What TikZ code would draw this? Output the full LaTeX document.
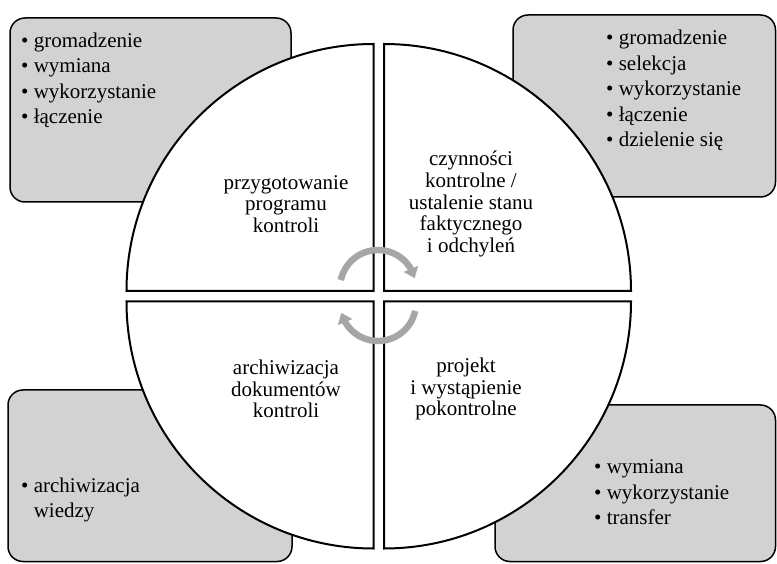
\documentclass[tikz,border=0pt]{standalone}
\usepackage{fontspec}
\setmainfont{Liberation Serif}
\usetikzlibrary{arrows.meta, bending}

\definecolor{boxgray}{RGB}{210,210,210}
\definecolor{arrowgray}{RGB}{166,166,166}
\newcommand{\itemfont}{\fontsize{21}{25.5}\selectfont}
\newcommand{\phasefont}{\fontsize{21}{21.7}\selectfont}

\begin{document}
\begin{tikzpicture}[
    x=1pt, y=1pt,
    infobox/.style={draw, line width=1.5pt, rounded corners=15pt, fill=boxgray},
    quarter/.style={draw, line width=2pt, fill=white},
    items/.style={font=\itemfont, align=left, anchor=west, inner sep=0pt},
    phase/.style={font=\phasefont, align=center, inner sep=0pt},
    cyclearrow/.style={draw=arrowgray, line width=6.5pt, -{Triangle[width=15pt, length=10pt]}}
]
\useasboundingbox (0,0) rectangle (777,563);

% Boxes
\draw[infobox] (10,361) rectangle (291,545);
\draw[infobox] (513,366) rectangle (775.5,548);
\draw[infobox] (8,1.5) rectangle (292,173);
\draw[infobox] (495,1.5) rectangle (775.5,158);

% Circle quarters
\draw[quarter] (373.5,272) -- ++(0,247) arc[start angle=90, end angle=180, radius=247] -- cycle;
\draw[quarter] (384,272) -- ++(247,0) arc[start angle=0, end angle=90, radius=247] -- cycle;
\draw[quarter] (373.5,261.5) -- ++(-247,0) arc[start angle=180, end angle=270, radius=247] -- cycle;
\draw[quarter] (384,261.5) -- ++(0,-247) arc[start angle=270, end angle=360, radius=247] -- cycle;

% Nodes
\node[items] (knowtl) at (21,482.5) {• gromadzenie\\ • wymiana\\ • wykorzystanie\\ • łączenie};
\node[items] (knowtr) at (606,472.5) {• gromadzenie\\ • selekcja\\ • wykorzystanie\\ • łączenie\\ • dzielenie się};
\node[items] (knowbl) at (21,63) {• archiwizacja\\ \phantom{• }wiedzy};
\node[items] (knowbr) at (594,70.5) {• wymiana\\ • wykorzystanie\\ • transfer};

\node[phase] (program) at (286,359) {przygotowanie\\ programu\\ kontroli};
\node[phase] (checks) at (471,359) {czynności\\ kontrolne /\\ ustalenie stanu\\ faktycznego\\ i odchyleń};
\node[phase] (archive) at (286,174) {archiwizacja\\ dokumentów\\ kontroli};
\node[phase] (report) at (466,174) {projekt\\ i wystąpienie\\ pokontrolne};

% Arrows
\draw[cyclearrow] (378,275) ++(168:38) arc[start angle=168, end angle=15, radius=38];
\draw[cyclearrow] (378,260) ++(-12:38) arc[start angle=-12, end angle=-165, radius=38];

\end{tikzpicture}
\end{document}
